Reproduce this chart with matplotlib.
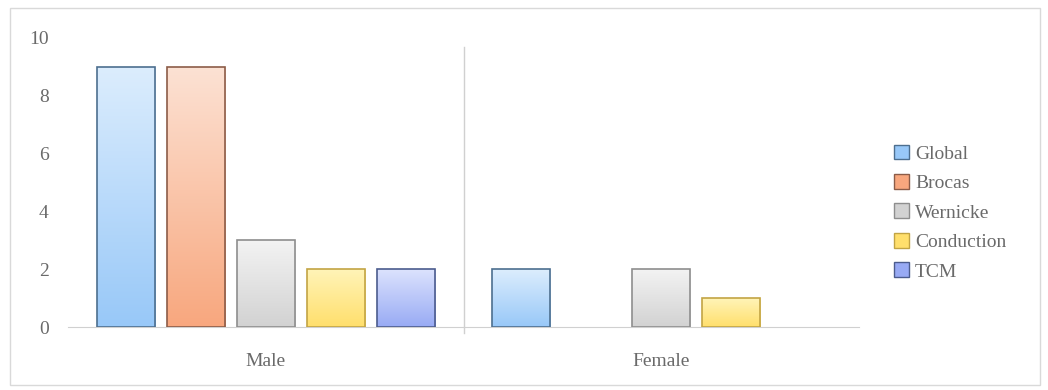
import numpy as np
import matplotlib.pyplot as plt
from matplotlib.patches import Patch, Rectangle
from matplotlib.colors import LinearSegmentedColormap

groups = ['Male', 'Female']
series = ['Global', 'Brocas', 'Wernicke', 'Conduction', 'TCM']
values = {
    'Global': [9, 2],
    'Brocas': [9, 0],
    'Wernicke': [3, 2],
    'Conduction': [2, 1],
    'TCM': [2, 0],
}
top_colors = ['#dcedfd', '#fce2d4', '#f3f3f3', '#fff4b8', '#dce3fd']
bot_colors = ['#98c8f8', '#f8a77e', '#d2d2d2', '#ffdf6c', '#98aaf4']
edge_colors = ['#4d6f8f', '#8c5c48', '#8e8e8e', '#c2a444', '#4c5c8e']

plt.rcParams['font.family'] = 'serif'
plt.rcParams['font.serif'] = ['Liberation Serif', 'DejaVu Serif']
txt = '#6a6a6a'

fig = plt.figure(figsize=(10.48, 3.9), dpi=100)
ax = fig.add_axes([0.0649, 0.1615, 0.7548, 0.7411])

x = np.arange(len(groups))
pitch = 0.177
width = 0.147
grad = np.linspace(1, 0, 256).reshape(-1, 1)

for i, s in enumerate(series):
    off = (i - 2) * pitch
    cmap = LinearSegmentedColormap.from_list(s, [bot_colors[i], top_colors[i]])
    bars = ax.bar(x + off, values[s], width, facecolor='none',
                  edgecolor=edge_colors[i], linewidth=1.2, zorder=3)
    for b in bars:
        h = b.get_height()
        if h <= 0:
            b.set_linewidth(0)
            continue
        im = ax.imshow(grad, cmap=cmap, aspect='auto', zorder=2,
                       extent=(b.get_x(), b.get_x() + b.get_width(), 0, h))
        im.set_clip_path(b)

ax.set_xlim(-0.5, 1.5)
ax.set_ylim(0, 10)
ax.set_yticks([0, 2, 4, 6, 8, 10])
ax.set_xticks(x)
ax.set_xticklabels(groups)
ax.tick_params(length=0, colors=txt, labelsize=14)
ax.tick_params(axis='y', pad=14)
ax.tick_params(axis='x', pad=19)
for sp in ['top', 'right', 'left']:
    ax.spines[sp].set_visible(False)
ax.spines['bottom'].set_color('#d0d0d0')
ax.plot([0.5, 0.5], [-0.2, 9.7], color='#d0d0d0', lw=1, clip_on=False)

handles = [Patch(facecolor=bot_colors[i], edgecolor=edge_colors[i], label=s)
           for i, s in enumerate(series)]
leg = fig.legend(handles=handles, loc='center left', bbox_to_anchor=(0.836, 0.455),
                 frameon=False, fontsize=14, handlelength=0.8, handleheight=0.8,
                 handletextpad=0.3, labelspacing=0.58)
for t in leg.get_texts():
    t.set_color(txt)

fig.patches.append(Rectangle((0.01, 0.013), 0.982, 0.967, transform=fig.transFigure,
                             fill=False, edgecolor='#d9d9d9', lw=1))
fig.savefig('out.png', dpi=100)
